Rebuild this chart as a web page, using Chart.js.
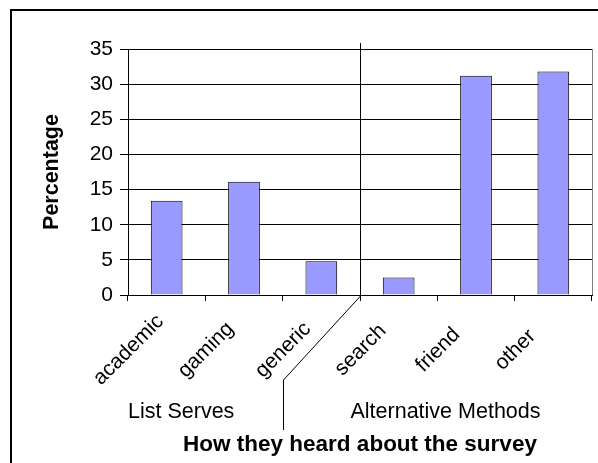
<!DOCTYPE html>
<html>
<head>
<meta charset="utf-8">
<script src="https://cdn.jsdelivr.net/npm/chart.js@4/dist/chart.umd.min.js"></script>
<style>
  html, body { margin: 0; padding: 0; background: #fff; }
  canvas { display: block; }
</style>
</head>
<body>
<canvas id="c" width="598" height="463"></canvas>
<script>
// Survey referral sources (percentage of respondents)
const categories = ['academic', 'gaming', 'generic', 'search', 'friend', 'other'];
const percentages = [13.4, 16.1, 4.8, 2.5, 31.2, 31.8];
const yTicks = [0, 5, 10, 15, 20, 25, 30, 35];
const groupLabels = ['List Serves', 'Alternative Methods'];
const axisTitleY = 'Percentage';
const axisTitleX = 'How they heard about the survey';

const FONT = '"Liberation Sans", Arial, sans-serif';

// Frame, category labels, group divider and annotation text
const decorations = {
  id: 'decorations',
  beforeDraw(chart) {
    const ctx = chart.ctx;
    ctx.save();
    ctx.fillStyle = '#fff';
    ctx.fillRect(0, 0, chart.width, chart.height);
    ctx.strokeStyle = '#000';
    ctx.lineWidth = 2;
    ctx.strokeRect(11, 10, chart.width + 20, chart.height + 20);
    ctx.restore();
  },
  afterDraw(chart) {
    const ctx = chart.ctx;
    const area = chart.chartArea;
    const x = chart.scales.x;
    ctx.save();

    // right edge of the plot area
    ctx.strokeStyle = '#808080';
    ctx.lineWidth = 1;
    ctx.beginPath();
    ctx.moveTo(Math.round(area.right) + 0.5, area.top);
    ctx.lineTo(Math.round(area.right) + 0.5, area.bottom);
    ctx.stroke();

    // divider between the two groups of sources
    const splitX = Math.round(x.getPixelForValue(2.5)) + 0.5;
    const legX = Math.round(x.getPixelForValue(1.5)) + 0.5;
    ctx.strokeStyle = '#000';
    ctx.lineWidth = 1;
    ctx.beginPath();
    ctx.moveTo(splitX, area.top - 6);
    ctx.lineTo(splitX, area.bottom + 1);
    ctx.lineTo(legX, 380);
    ctx.lineTo(legX, 430);
    ctx.stroke();

    ctx.fillStyle = '#000';

    // category labels, rotated 45 degrees and centred in the label band
    ctx.font = '21px ' + FONT;
    ctx.textAlign = 'center';
    ctx.textBaseline = 'middle';
    categories.forEach((label, i) => {
      const px = x.getPixelForValue(i);
      ctx.save();
      ctx.translate(px - 38, 350);
      ctx.rotate(-Math.PI / 4);
      ctx.fillText(label, 0, 0);
      ctx.restore();
    });

    ctx.textBaseline = 'alphabetic';

    // group labels
    ctx.font = '21.5px ' + FONT;
    ctx.textAlign = 'left';
    ctx.fillText(groupLabels[0], area.left, 418);
    ctx.fillText(groupLabels[1], splitX - 10, 418);

    // x axis title
    ctx.font = 'bold 22.5px ' + FONT;
    ctx.textAlign = 'center';
    ctx.fillText(axisTitleX, (area.left + area.right) / 2, 451);

    // y axis title
    ctx.translate(52, (area.top + area.bottom) / 2);
    ctx.rotate(-Math.PI / 2);
    ctx.font = 'bold 21.5px ' + FONT;
    ctx.textAlign = 'center';
    ctx.textBaseline = 'middle';
    ctx.fillText(axisTitleY, 0, 0);
    ctx.restore();
  }
};

new Chart(document.getElementById('c'), {
  type: 'bar',
  data: {
    labels: categories,
    datasets: [{
      data: percentages,
      backgroundColor: '#9999FF',
      borderColor: '#000',
      borderWidth: 1,
      barPercentage: 0.41,
      categoryPercentage: 1.0
    }]
  },
  options: {
    responsive: false,
    animation: false,
    devicePixelRatio: 1,
    layout: { padding: { top: 49, right: 6, left: 0, bottom: 0 } },
    plugins: {
      legend: { display: false },
      tooltip: { enabled: false }
    },
    scales: {
      x: {
        offset: true,
        grid: {
          offset: true,
          drawOnChartArea: false,
          drawTicks: true,
          tickLength: 6,
          tickColor: '#000'
        },
        border: { display: true, color: '#000', width: 1 },
        ticks: { display: false, autoSkip: false },
        afterFit(scale) { scale.height = 463 - 295; }
      },
      y: {
        min: 0,
        max: 35,
        afterBuildTicks(scale) { scale.ticks = yTicks.map(v => ({ value: v })); },
        grid: {
          color: '#000',
          lineWidth: 1,
          drawTicks: true,
          tickLength: 8,
          tickColor: '#000'
        },
        border: { display: true, color: '#000', width: 1 },
        ticks: {
          color: '#000',
          font: { family: FONT, size: 21 },
          padding: 7
        },
        afterFit(scale) { scale.width = 128; }
      }
    }
  },
  plugins: [decorations]
});
</script>
</body>
</html>
